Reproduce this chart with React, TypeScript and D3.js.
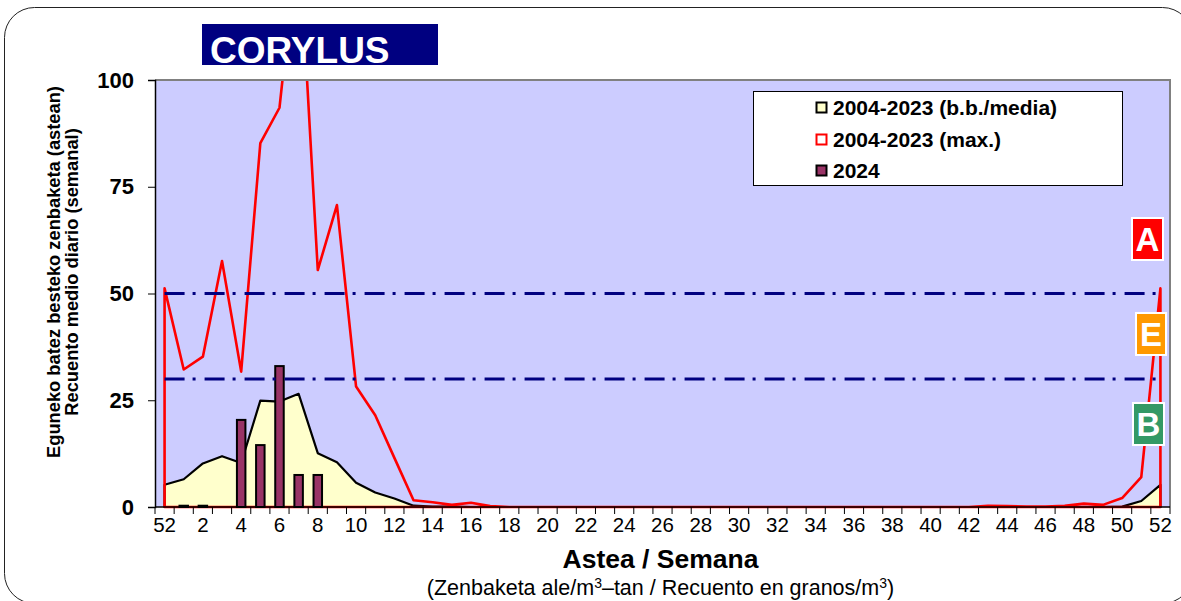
import React, { useEffect, useRef } from 'react';
import * as d3 from 'd3';

// category 0 is week 52 of the previous year
const weeks = ['52', '1', '2', '3', '4', '5', '6', '7', '8', '9', '10', '11', '12', '13', '14', '15', '16', '17', '18', '19',
    '20', '21', '22', '23', '24', '25', '26', '27', '28', '29', '30', '31', '32', '33', '34', '35', '36', '37', '38', '39',
    '40', '41', '42', '43', '44', '45', '46', '47', '48', '49', '50', '51', '52'];

const meanValues = [5.2, 6.5, 10.2, 11.9, 10.3, 24.9, 24.7, 26.5, 12.6, 10.5,
    5.7, 3.4, 2.0, 0.3, 0.1, 0.1, 0, 0, 0, 0,
    0, 0, 0, 0, 0, 0, 0, 0, 0, 0,
    0, 0, 0, 0, 0, 0, 0, 0, 0, 0,
    0, 0, 0, 0, 0, 0, 0, 0, 0, 0,
    0.1, 1.4, 5.2];

const maxValues = [51.2, 32.2, 35.2, 57.6, 31.7, 85.2, 93.5, 135, 55.5, 70.7,
    28.2, 21.5, 11.5, 1.6, 1.1, 0.5, 1.0, 0.2, 0, 0,
    0, 0, 0, 0, 0, 0, 0, 0, 0, 0,
    0, 0, 0, 0, 0, 0, 0, 0, 0, 0,
    0, 0, 0, 0.3, 0.2, 0.1, 0.1, 0.3, 0.8, 0.5,
    2.1, 7.0, 51.2];

const values2024 = [null, 0.3, 0.3, null, 20.4, 14.5, 33.0, 7.5, 7.5];

const thresholds = [50, 30];
const yTicks = [0, 25, 50, 75, 100];
const legendLabels = ['2004-2023 (b.b./media)', '2004-2023 (max.)', '2024'];
const levelLetters = ['A', 'E', 'B'];

const FONT = '"Liberation Sans", Arial, sans-serif';

export default function App() {
    const svgRef = useRef(null);

    useEffect(() => {
        const W = 1181, H = 601;
        const plot = { left: 155, right: 1170, top: 80, bottom: 507 };

        const svg = d3.select(svgRef.current)
            .attr('width', W).attr('height', H)
            .style('font-family', FONT)
            .html('');

        // outer rounded frame
        svg.append('rect')
            .attr('x', 4.5).attr('y', 7.5)
            .attr('width', 1188).attr('height', 596)
            .attr('rx', 30).attr('ry', 30)
            .attr('fill', '#fff').attr('stroke', '#222').attr('stroke-width', 1);

        // title
        svg.append('rect')
            .attr('x', 202).attr('y', 24).attr('width', 236).attr('height', 41)
            .attr('fill', '#000080');
        svg.append('text')
            .attr('x', 210).attr('y', 63)
            .attr('fill', '#fff').style('font-size', '37px').style('font-weight', 'bold')
            .text('CORYLUS');

        const x = d3.scaleBand()
            .domain(d3.range(weeks.length))
            .range([plot.left, plot.right])
            .padding(0);
        const cx = i => x(i) + x.bandwidth() / 2;

        const y = d3.scaleLinear().domain([0, 100]).range([plot.bottom, plot.top]);

        svg.append('rect')
            .attr('x', plot.left).attr('y', plot.top)
            .attr('width', plot.right - plot.left).attr('height', plot.bottom - plot.top)
            .attr('fill', '#CCCCFF');

        svg.append('defs').append('clipPath').attr('id', 'plotClip')
            .append('rect')
            .attr('x', plot.left).attr('y', plot.top)
            .attr('width', plot.right - plot.left).attr('height', plot.bottom - plot.top + 3);

        const g = svg.append('g').attr('clip-path', 'url(#plotClip)');

        const area = d3.area()
            .x((d, i) => cx(i))
            .y0(y(0))
            .y1(d => y(d));

        g.append('path')
            .datum(meanValues)
            .attr('d', area)
            .attr('fill', '#FFFFCC')
            .attr('stroke', '#000').attr('stroke-width', 2.2).attr('stroke-linejoin', 'round');

        g.append('path')
            .datum(maxValues)
            .attr('d', area)
            .attr('fill', 'none')
            .attr('stroke', '#FF0000').attr('stroke-width', 2.6).attr('stroke-linejoin', 'round');

        const barW = 8.5;
        g.selectAll('.bar')
            .data(values2024.map((v, i) => ({ v, i })).filter(d => d.v != null))
            .enter().append('rect')
            .attr('class', 'bar')
            .attr('x', d => cx(d.i) - barW / 2)
            .attr('width', barW)
            .attr('y', d => y(d.v))
            .attr('height', d => y(0) - y(d.v))
            .attr('fill', '#993366')
            .attr('stroke', '#000').attr('stroke-width', 2);

        const line = d3.line()
            .x(d => cx(d.i))
            .y(d => y(d.v));
        thresholds.forEach(t => {
            g.append('path')
                .datum(weeks.map((w, i) => ({ i, v: t })))
                .attr('d', line)
                .attr('fill', 'none')
                .attr('stroke', '#000080').attr('stroke-width', 3)
                .attr('stroke-dasharray', '20,8,3,9');
        });

        // plot border
        svg.append('path')
            .attr('d', `M${plot.left},${plot.top}H${plot.right}V${plot.bottom}`)
            .attr('fill', 'none').attr('stroke', '#808080').attr('stroke-width', 2);

        // y axis
        const yAxis = svg.append('g')
            .attr('transform', `translate(${plot.left},0)`)
            .call(d3.axisLeft(y).tickValues(yTicks).tickSize(7).tickPadding(14));
        yAxis.select('.domain').attr('stroke', '#000').attr('stroke-width', 1.5);
        yAxis.selectAll('.tick line').attr('stroke', '#000');
        yAxis.selectAll('text')
            .attr('fill', '#000')
            .style('font-family', FONT)
            .style('font-size', '22px')
            .style('font-weight', 'bold');

        // x axis
        svg.append('line')
            .attr('x1', plot.left).attr('x2', plot.right)
            .attr('y1', plot.bottom).attr('y2', plot.bottom)
            .attr('stroke', '#000').attr('stroke-width', 1.5);
        svg.selectAll('.xtick')
            .data(d3.range(weeks.length + 1))
            .enter().append('line')
            .attr('class', 'xtick')
            .attr('x1', i => i < weeks.length ? x(i) : plot.right)
            .attr('x2', i => i < weeks.length ? x(i) : plot.right)
            .attr('y1', plot.bottom).attr('y2', plot.bottom + 7)
            .attr('stroke', '#000').attr('stroke-width', 1);
        svg.selectAll('.xlabel')
            .data(d3.range(0, weeks.length, 2))
            .enter().append('text')
            .attr('class', 'xlabel')
            .attr('x', i => cx(i))
            .attr('y', 532)
            .attr('text-anchor', 'middle')
            .style('font-size', '20.5px')
            .attr('fill', '#000')
            .text(i => weeks[i]);

        // axis titles
        const midX = (plot.left + plot.right) / 2 - 2;
        svg.append('text')
            .attr('x', midX).attr('y', 568)
            .attr('text-anchor', 'middle')
            .style('font-size', '26.5px').style('font-weight', 'bold')
            .text('Astea / Semana');
        const sub = svg.append('text')
            .attr('x', midX).attr('y', 595)
            .attr('text-anchor', 'middle')
            .style('font-size', '21.5px');
        sub.append('tspan').text('(Zenbaketa ale/m');
        sub.append('tspan').attr('dy', -7).style('font-size', '14px').text('3');
        sub.append('tspan').attr('dy', 7).text('\u2013tan / Recuento en granos/m');
        sub.append('tspan').attr('dy', -7).style('font-size', '14px').text('3');
        sub.append('tspan').attr('dy', 7).text(')');

        const yTitle = svg.append('text')
            .attr('transform', 'translate(0,272) rotate(-90)')
            .attr('text-anchor', 'middle')
            .style('font-size', '18.3px').style('font-weight', 'bold');
        yTitle.append('tspan').attr('x', 0).attr('y', 60).text('Eguneko batez besteko zenbaketa (astean)');
        yTitle.append('tspan').attr('x', 0).attr('y', 78).text('Recuento medio diario (semanal)');

        // legend
        svg.append('rect')
            .attr('x', 753.5).attr('y', 91.5).attr('width', 369).attr('height', 94)
            .attr('fill', '#fff').attr('stroke', '#000').attr('stroke-width', 1);
        const legendStyles = [
            { fill: '#FFFFCC', stroke: '#000' },
            { fill: '#fff', stroke: '#FF0000' },
            { fill: '#993366', stroke: '#000' }
        ];
        const rowY = [107, 139, 170];
        legendLabels.forEach((label, i) => {
            svg.append('rect')
                .attr('x', 816.5).attr('y', rowY[i] - 4.5).attr('width', 10).attr('height', 10)
                .attr('fill', legendStyles[i].fill)
                .attr('stroke', legendStyles[i].stroke).attr('stroke-width', 2);
            svg.append('text')
                .attr('x', 833).attr('y', rowY[i]).attr('dy', '0.36em')
                .style('font-size', '21px').style('font-weight', 'bold')
                .text(label);
        });

        // level boxes
        const boxes = [
            { x: 1132, y: 218, w: 31, h: 42, fill: '#FF0000' },
            { x: 1136, y: 313, w: 30, h: 42, fill: '#FF9900' },
            { x: 1133, y: 403, w: 31, h: 42, fill: '#339966' }
        ];
        levelLetters.forEach((letter, i) => {
            const b = boxes[i];
            svg.append('rect')
                .attr('x', b.x).attr('y', b.y).attr('width', b.w).attr('height', b.h)
                .attr('fill', b.fill).attr('stroke', '#fff').attr('stroke-width', 2);
            svg.append('text')
                .attr('x', b.x + b.w / 2).attr('y', b.y + b.h / 2).attr('dy', '0.36em')
                .attr('text-anchor', 'middle')
                .attr('fill', '#fff')
                .style('font-size', '33px').style('font-weight', 'bold')
                .text(letter);
        });
    }, []);

    return <svg ref={svgRef} style={{ position: 'absolute', left: 0, top: 0 }} />;
}
